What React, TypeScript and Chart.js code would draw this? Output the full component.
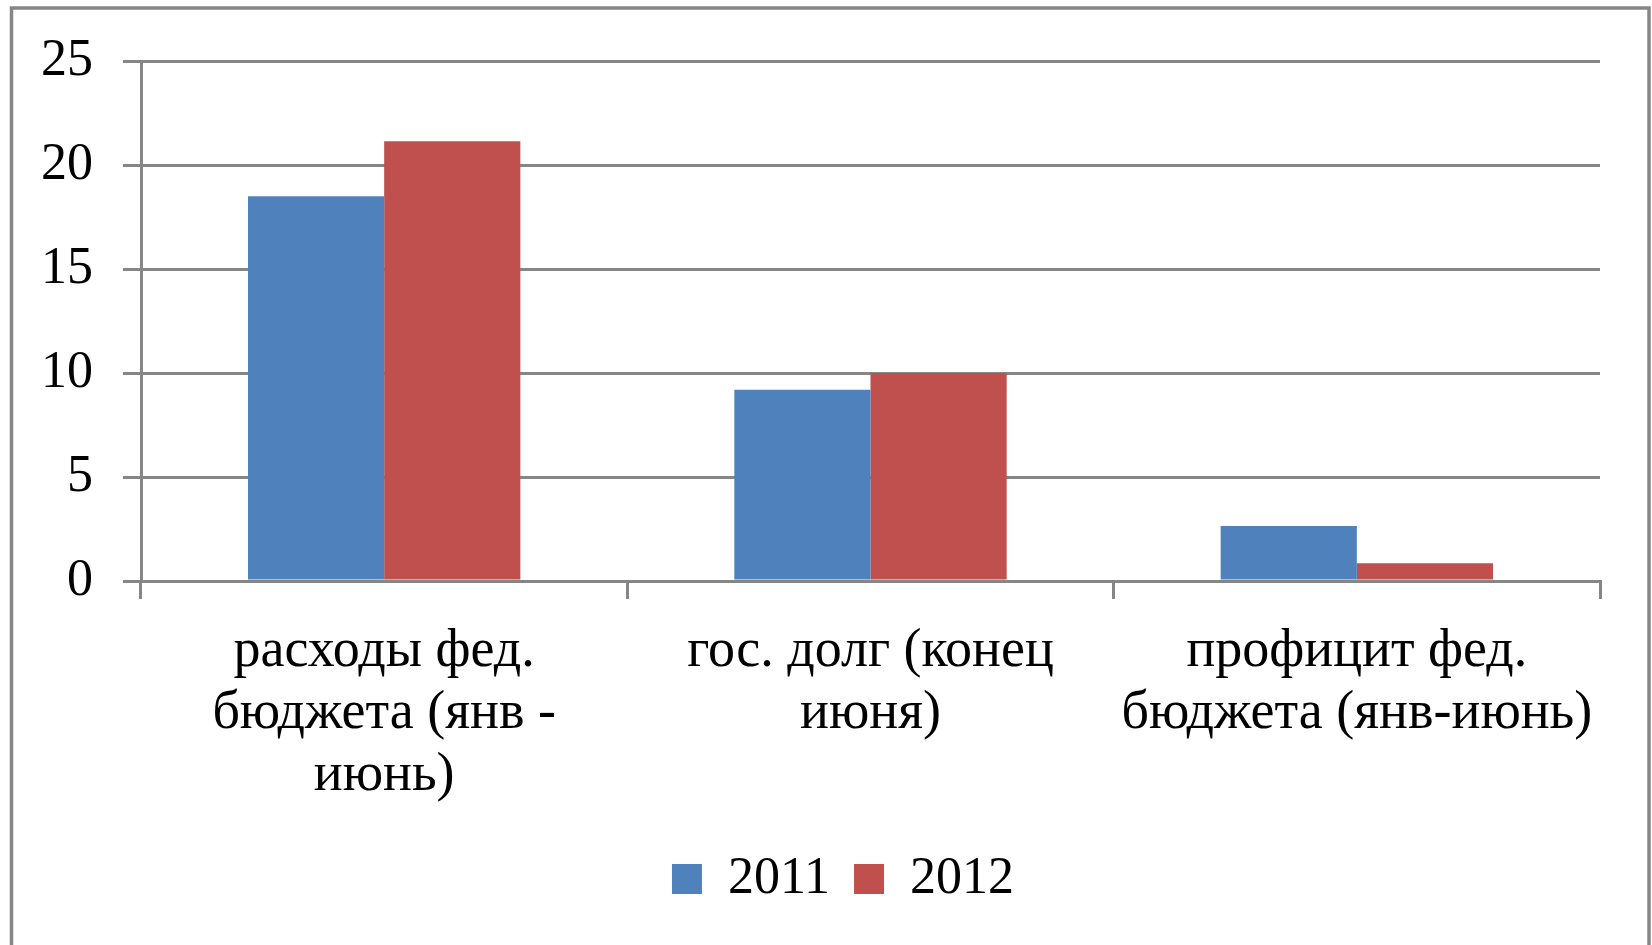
import React, { useEffect, useRef } from 'react';
import { Chart, registerables } from 'chart.js';

Chart.register(...registerables);

const categories: string[][] = [
  ['расходы фед.', 'бюджета (янв -', 'июнь)'],
  ['гос. долг (конец', 'июня)'],
  ['профицит фед.', 'бюджета (янв-июнь)'],
];
const seriesNames = ['2011', '2012'];
const values2011 = [18.5, 9.2, 2.65];
const values2012 = [21.15, 10.0, 0.85];
const yTicks = [0, 5, 10, 15, 20, 25];

const seriesColors = ['#4F81BD', '#C0504D'];
const gridColor = '#868686';
const fontFamily = '"Liberation Serif", "Times New Roman", serif';

const framePlugin = {
  id: 'outerFrame',
  beforeDraw(chart: any) {
    const ctx = chart.ctx;
    ctx.save();
    ctx.strokeStyle = gridColor;
    ctx.lineWidth = 3.5;
    ctx.strokeRect(11.5, 8, 1637.5, 1000);
    ctx.restore();
  },
};

export default function App() {
  const canvasRef = useRef<HTMLCanvasElement | null>(null);

  useEffect(() => {
    if (!canvasRef.current) return;
    const chart = new Chart(canvasRef.current, {
      type: 'bar',
      data: {
        labels: categories,
        datasets: [
          { label: seriesNames[0], data: values2011, backgroundColor: seriesColors[0], borderWidth: 0 },
          { label: seriesNames[1], data: values2012, backgroundColor: seriesColors[1], borderWidth: 0 },
        ],
      },
      options: {
        animation: false,
        responsive: false,
        devicePixelRatio: 1,
        layout: { padding: { top: 59, left: 34, right: 0, bottom: 30 } },
        datasets: { bar: { categoryPercentage: 0.56, barPercentage: 1.0 } },
        plugins: {
          tooltip: { enabled: false },
          legend: {
            position: 'bottom',
            labels: {
              boxWidth: 30,
              boxHeight: 30,
              padding: 24,
              color: '#000',
              font: { family: fontFamily, size: 52 },
            },
          },
        },
        scales: {
          x: {
            grid: {
              display: true,
              drawOnChartArea: false,
              drawTicks: true,
              tickLength: 18,
              color: gridColor,
              lineWidth: 3,
              offset: true,
            },
            border: { display: true, color: gridColor, width: 3 },
            ticks: {
              color: '#000',
              padding: 22,
              maxRotation: 0,
              autoSkip: false,
              font: { family: fontFamily, size: 54, lineHeight: 1.15 },
            },
            afterFit: (scale: any) => { scale.height = 248; },
          },
          y: {
            min: 0,
            max: 25,
            afterBuildTicks: (scale: any) => { scale.ticks = yTicks.map((v) => ({ value: v })); },
            grid: {
              color: gridColor,
              lineWidth: 3,
              drawTicks: true,
              tickLength: 18,
            },
            border: { display: true, color: gridColor, width: 3 },
            ticks: {
              color: '#000',
              padding: 30,
              font: { family: fontFamily, size: 52 },
            },
            afterFit: (scale: any) => { scale.width = 107; },
          },
          spacerRight: {
            type: 'linear',
            position: 'right',
            display: true,
            grid: { display: false, drawTicks: false },
            border: { display: false },
            ticks: { display: false },
            afterFit: (scale: any) => { scale.width = 52; },
          },
        },
      },
      plugins: [framePlugin],
    });
    return () => chart.destroy();
  }, []);

  return (
    <div style={{ position: 'absolute', left: 0, top: 0, width: 1652, height: 945, background: '#fff' }}>
      <canvas ref={canvasRef} width={1652} height={945} style={{ display: 'block' }} />
    </div>
  );
}
